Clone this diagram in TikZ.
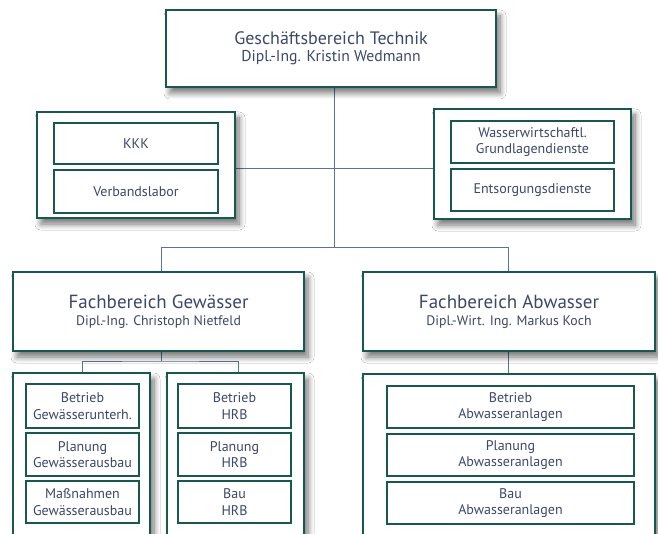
\documentclass[tikz,border=0pt]{standalone}
\usepackage{fontspec}
\setmainfont{PT Sans}
\usetikzlibrary{shadows.blur}
\definecolor{bord}{HTML}{1B5751}
\definecolor{txt}{HTML}{3C4868}
\definecolor{conn}{HTML}{5A7590}
\tikzset{
  box/.style={draw=bord, line width=2.2pt, fill=white, align=center, text=txt, inner sep=0pt, font=\fontsize{14}{16.5}\selectfont},
  shad/.style={blur shadow={shadow xshift=4pt, shadow yshift=-6pt, shadow blur steps=10, shadow blur radius=6pt, shadow opacity=55}},
  sbox/.style={box, shad},
  grp/.style={draw=bord, line width=2.2pt, fill=white},
  sgrp/.style={grp, shad},
  cline/.style={draw=conn, line width=0.9pt},
}
\begin{document}
\begin{tikzpicture}[x=1pt,y=-1pt]
\useasboundingbox (0,0) rectangle (658,534);
\clip (0,0) rectangle (658,534);
\fill[white] (0,0) rectangle (658,534);
% junction coordinates
\coordinate (j1) at (334,247);
\coordinate (j2) at (161,361);
\coordinate (jl) at (161,247);
\coordinate (jr) at (508,247);
% connectors (behind)
\draw[cline] (334,87) -- (j1);
\draw[cline] (235,168) -- (434,168);
\draw[cline] (161,272) -- (jl) -- (jr) -- (508,274);
\draw[cline] (161,351) -- (j2);
\draw[cline] (82,373) |- (j2) -| (238,373);
\draw[cline] (508,351) -- (508,374);
% top
\node[sbox, minimum width=330pt, minimum height=77pt] (top) at (331,48.5)
  {{\fontsize{18}{20}\selectfont Geschäftsbereich Technik}\\{\fontsize{15.7}{18}\selectfont Dipl.-Ing. Kristin Wedmann}};
% left staff group
\node[sgrp, minimum width=198pt, minimum height=106pt] (lgrp) at (136,165) {};
\node[box, minimum width=164pt, minimum height=41pt] (kkk) at (136,143.5) {KKK};
\node[box, minimum width=164pt, minimum height=43pt] (vlab) at (136,191.5) {Verbandslabor};
% right staff group
\node[sgrp, minimum width=197pt, minimum height=110pt] (rgrp) at (532.5,164) {};
\node[box, minimum width=163pt, minimum height=42pt] (wgd) at (532.5,142) {Wasserwirtschaftl.\\Grundlagendienste};
\node[box, minimum width=163pt, minimum height=42pt] (ent) at (532.5,190) {Entsorgungsdienste};
% Fachbereiche
\node[sbox, minimum width=291pt, minimum height=79pt] (fbg) at (158.5,311.5)
  {{\fontsize{19}{22}\selectfont Fachbereich Gewässer}\\[1pt]{\fontsize{13.8}{16}\selectfont Dipl.-Ing. Christoph Nietfeld}};
\node[sbox, minimum width=292pt, minimum height=79pt] (fba) at (509,311.5)
  {{\fontsize{19}{22}\selectfont Fachbereich Abwasser}\\[1pt]{\fontsize{13.8}{16}\selectfont Dipl.-Wirt. Ing. Markus Koch}};
% bottom groups
\node[sgrp, minimum width=137pt, minimum height=187pt] (gl) at (81.5,466.5) {};
\node[sgrp, minimum width=137pt, minimum height=187pt] (gm) at (235.5,466.5) {};
\node[sgrp, minimum width=292pt, minimum height=186pt] (gr) at (509,467) {};
% left column
\node[box, minimum width=113pt, minimum height=44pt] (l1) at (82.5,406) {Betrieb\\Gewässerunterh.};
\node[box, minimum width=113pt, minimum height=43pt] (l2) at (82.5,454.5) {Planung\\Gewässerausbau};
\node[box, minimum width=113pt, minimum height=42pt] (l3) at (82.5,502) {Maßnahmen\\Gewässerausbau};
% middle column
\node[box, minimum width=113pt, minimum height=44pt] (m1) at (234.5,406) {Betrieb\\HRB};
\node[box, minimum width=113pt, minimum height=43pt] (m2) at (234.5,454.5) {Planung\\HRB};
\node[box, minimum width=113pt, minimum height=42pt] (m3) at (234.5,502) {Bau\\HRB};
% right column
\node[box, minimum width=247pt, minimum height=42pt] (r1) at (510.5,407) {Betrieb\\Abwasseranlagen};
\node[box, minimum width=247pt, minimum height=42pt] (r2) at (510.5,455) {Planung\\Abwasseranlagen};
\node[box, minimum width=247pt, minimum height=42pt] (r3) at (510.5,503) {Bau\\Abwasseranlagen};
\end{tikzpicture}
\end{document}
